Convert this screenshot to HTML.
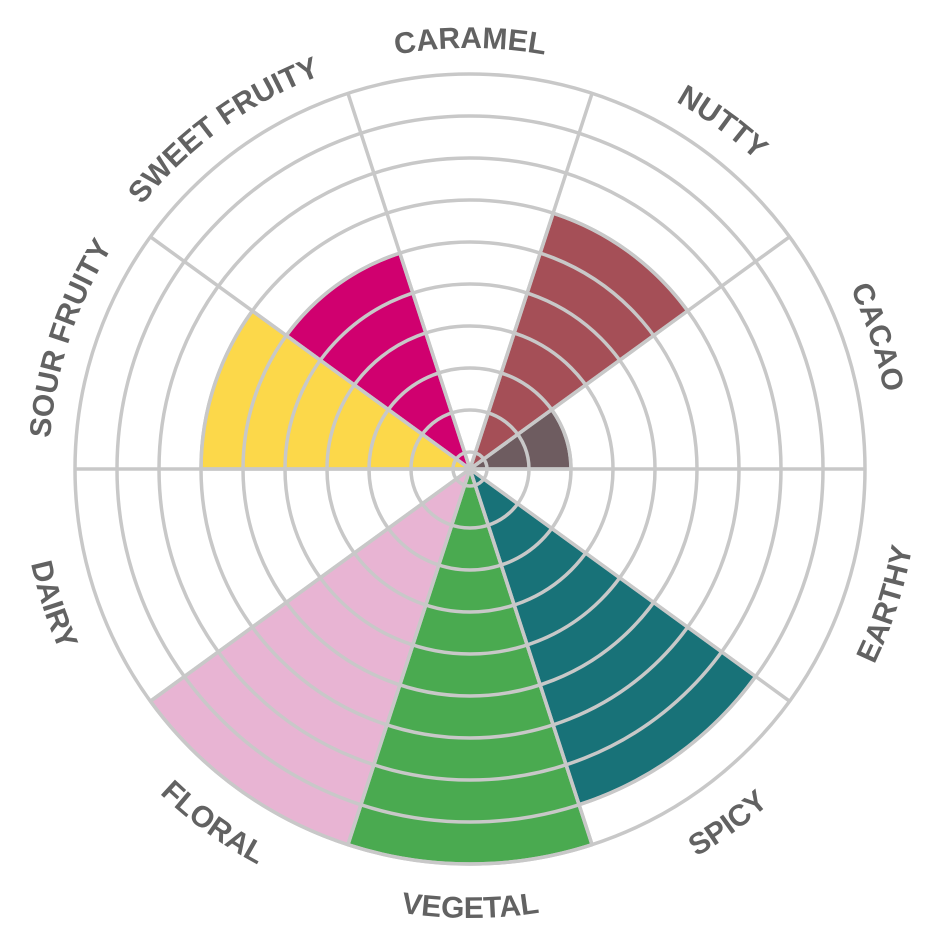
<!DOCTYPE html>
<html>
<head>
<meta charset="utf-8">
<style>
  html, body { margin: 0; padding: 0; background: #ffffff; }
  svg { display: block; }
  .lbl { font-family: "Liberation Sans", Arial, sans-serif; font-weight: bold; font-size: 30px; fill: #626262; }
</style>
</head>
<body>
<svg width="942" height="941" viewBox="0 0 942 941" xmlns="http://www.w3.org/2000/svg">
  <rect width="942" height="941" fill="#ffffff"/>
  <defs>
    <path id="topc" d="M470,890 A421,421 0 0 1 470,48 A421,421 0 0 1 470,890"/>
    <path id="botc" d="M470,20 A449,449 0 0 0 470,918 A449,449 0 0 0 470,20"/>
  </defs>

  <!-- bars -->
  <g stroke="#c8c8c8" stroke-width="3.5" stroke-linejoin="round">
    <path d="M470,469 L571,469 A101,101 0 0 0 551.71,409.63 Z" fill="#6e5c60"/>
    <path d="M470,469 L687.63,310.89 A269,269 0 0 0 553.13,213.16 Z" fill="#a54f57"/>
    <path d="M470,469 L399.85,253.11 A227,227 0 0 0 286.35,335.57 Z" fill="#d0006f"/>
    <path d="M470,469 L252.37,310.89 A269,269 0 0 0 201,469 Z" fill="#fcd84a"/>
    <path d="M470,469 L150.44,701.17 A395,395 0 0 0 347.94,844.67 Z" fill="#e8b4d3"/>
    <path d="M470,469 L347.94,844.67 A395,395 0 0 0 592.06,844.67 Z" fill="#4aaa50"/>
    <path d="M470,469 L579.08,804.72 A353,353 0 0 0 755.58,676.49 Z" fill="#187278"/>
  </g>

  <!-- grid -->
  <g stroke="#c8c8c8" stroke-width="3.5" fill="none">
    <circle cx="470" cy="469" r="17"/>
    <circle cx="470" cy="469" r="59"/>
    <circle cx="470" cy="469" r="101"/>
    <circle cx="470" cy="469" r="143"/>
    <circle cx="470" cy="469" r="185"/>
    <circle cx="470" cy="469" r="227"/>
    <circle cx="470" cy="469" r="269"/>
    <circle cx="470" cy="469" r="311"/>
    <circle cx="470" cy="469" r="353"/>
    <circle cx="470" cy="469" r="395"/>
    <line x1="470" y1="469" x2="865" y2="469"/>
    <line x1="470" y1="469" x2="789.56" y2="236.83"/>
    <line x1="470" y1="469" x2="592.06" y2="93.33"/>
    <line x1="470" y1="469" x2="347.94" y2="93.33"/>
    <line x1="470" y1="469" x2="150.44" y2="236.83"/>
    <line x1="470" y1="469" x2="75" y2="469"/>
    <line x1="470" y1="469" x2="150.44" y2="701.17"/>
    <line x1="470" y1="469" x2="347.94" y2="844.67"/>
    <line x1="470" y1="469" x2="592.06" y2="844.67"/>
    <line x1="470" y1="469" x2="789.56" y2="701.17"/>
  </g>

  <!-- labels -->
  <text class="lbl" text-anchor="middle"><textPath href="#topc" startOffset="1851.7">CACAO</textPath></text>
  <text class="lbl" text-anchor="middle"><textPath href="#topc" startOffset="1587.1">NUTTY</textPath></text>
  <text class="lbl" text-anchor="middle"><textPath href="#topc" startOffset="1322.6">CARAMEL</textPath></text>
  <text class="lbl" text-anchor="middle"><textPath href="#topc" startOffset="1058.1">SWEET FRUITY</textPath></text>
  <text class="lbl" text-anchor="middle"><textPath href="#topc" startOffset="793.6">SOUR FRUITY</textPath></text>

  <text class="lbl" text-anchor="middle"><textPath href="#botc" startOffset="846.3">DAIRY</textPath></text>
  <text class="lbl" text-anchor="middle"><textPath href="#botc" startOffset="1128.5">FLORAL</textPath></text>
  <text class="lbl" text-anchor="middle"><textPath href="#botc" startOffset="1410.6">VEGETAL</textPath></text>
  <text class="lbl" text-anchor="middle"><textPath href="#botc" startOffset="1692.7">SPICY</textPath></text>
  <text class="lbl" text-anchor="middle"><textPath href="#botc" startOffset="1974.8">EARTHY</textPath></text>
</svg>
</body>
</html>
